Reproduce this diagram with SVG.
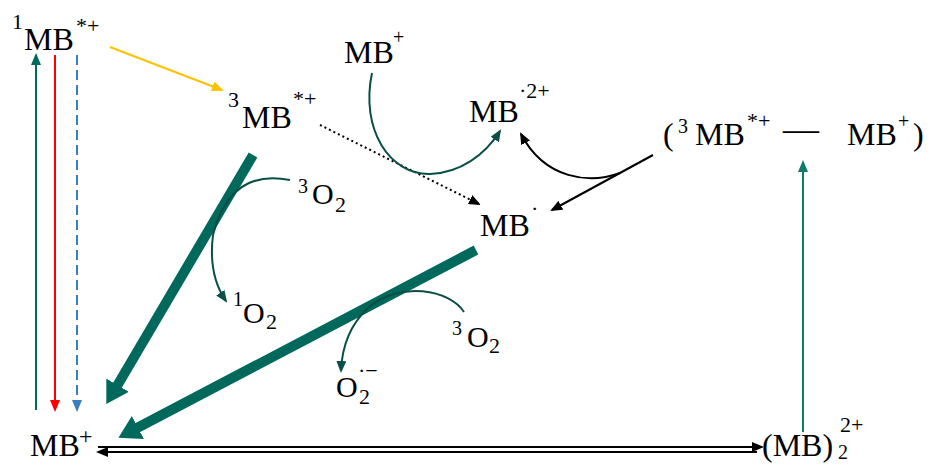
<svg xmlns="http://www.w3.org/2000/svg" width="930" height="465" viewBox="0 0 930 465" font-family="'Liberation Serif', 'Times New Roman', serif">
<style>
text{font-family:"Liberation Serif","Times New Roman",serif;fill:#000}
.m{font-size:32px}
.o{font-size:30px}
.s{font-size:22px}
.s2{font-size:20px}
.thin{fill:none;stroke-width:2}
</style>
<defs>
<marker id="hTeal" viewBox="0 0 12 10" refX="10" refY="5" markerWidth="12" markerHeight="10" markerUnits="userSpaceOnUse" orient="auto"><path d="M0,0 L12,5 L0,10 z" fill="#00695c"/></marker>
<marker id="hRed" viewBox="0 0 12 10" refX="10" refY="5" markerWidth="12" markerHeight="10" markerUnits="userSpaceOnUse" orient="auto"><path d="M0,0 L12,5 L0,10 z" fill="#ff0000"/></marker>
<marker id="hBlue" viewBox="0 0 12 10" refX="10" refY="5" markerWidth="12" markerHeight="10" markerUnits="userSpaceOnUse" orient="auto"><path d="M0,0 L12,5 L0,10 z" fill="#3a7ec2"/></marker>
<marker id="hYel" viewBox="0 0 12 10" refX="10" refY="5" markerWidth="12" markerHeight="10" markerUnits="userSpaceOnUse" orient="auto"><path d="M0,0 L12,5 L0,10 z" fill="#ffc000"/></marker>
<marker id="hDark" viewBox="0 0 12 10" refX="10" refY="5" markerWidth="12" markerHeight="10" markerUnits="userSpaceOnUse" orient="auto"><path d="M0,0 L12,5 L0,10 z" fill="#0a4f46"/></marker>
<marker id="hBlk" viewBox="0 0 12 10" refX="10" refY="5" markerWidth="12" markerHeight="10" markerUnits="userSpaceOnUse" orient="auto"><path d="M0,0 L12,5 L0,10 z" fill="#000"/></marker>
<marker id="hBlkS" viewBox="0 0 12 10" refX="2" refY="5" markerWidth="12" markerHeight="10" markerUnits="userSpaceOnUse" orient="auto"><path d="M12,0 L0,5 L12,10 z" fill="#000"/></marker>
<marker id="hTeal2" viewBox="0 0 12 10" refX="10" refY="5" markerWidth="12" markerHeight="10" markerUnits="userSpaceOnUse" orient="auto"><path d="M0,0 L12,5 L0,10 z" fill="#0f7b6e"/></marker>
<marker id="hThick" viewBox="0 0 22 26" refX="1" refY="13" markerWidth="22" markerHeight="26" markerUnits="userSpaceOnUse" orient="auto"><path d="M0,0 L22,13 L0,26 z" fill="#00695c"/></marker>
</defs>

<g id="connectors">
<line x1="36" y1="410" x2="36" y2="55" class="thin" stroke="#00695c" marker-end="url(#hTeal)"/>
<line x1="55" y1="55" x2="55" y2="410" class="thin" stroke="#ff0000" stroke-width="2.5" marker-end="url(#hRed)"/>
<line x1="77" y1="55" x2="77" y2="410" class="thin" stroke="#3a7ec2" stroke-dasharray="10,5" marker-end="url(#hBlue)"/>
<line x1="110" y1="47" x2="222" y2="90" class="thin" stroke="#ffc000" stroke-width="2.5" marker-end="url(#hYel)"/>
<line x1="320" y1="125" x2="479" y2="204" class="thin" stroke="#000" stroke-dasharray="2,3" stroke-width="2.5" marker-end="url(#hBlk)"/>
<line x1="253" y1="155" x2="117" y2="386" stroke="#00695c" stroke-width="10" marker-end="url(#hThick)"/>
<line x1="476" y1="250" x2="137" y2="428" stroke="#00695c" stroke-width="10" marker-end="url(#hThick)"/>
<path d="M290,180 Q230,168 213,235 Q208,275 226,301" class="thin" stroke="#0a4f46" marker-end="url(#hDark)"/>
<path d="M464,312 C450,290 400,280 368,308 C352,323 342,345 341,371" class="thin" stroke="#0a4f46" marker-end="url(#hDark)"/>
<path d="M372,73 C360,130 390,175 430,174 C460,173 485,155 500,131" class="thin" stroke="#0a4f46" stroke-width="2.5" marker-end="url(#hDark)"/>
<line x1="653" y1="155" x2="552" y2="210" class="thin" stroke="#000" marker-end="url(#hBlk)"/>
<path d="M620,173 C590,184 545,180 521,134" class="thin" stroke="#000" marker-end="url(#hBlk)"/>
<line x1="803" y1="432" x2="803" y2="162" class="thin" stroke="#0f7b6e" marker-end="url(#hTeal2)"/>
<line x1="98" y1="447" x2="762" y2="447" class="thin" stroke="#000" stroke-width="2.5" marker-end="url(#hBlk)"/>
<line x1="98" y1="452" x2="757" y2="452" class="thin" stroke="#000" stroke-width="2.5" marker-start="url(#hBlkS)"/>
</g>

<g id="n-1MB">
<text class="s" x="12" y="29">1</text>
<text class="m" x="24" y="50">MB</text>
<text class="s" x="76" y="33">*+</text>
</g>
<g id="n-3MB">
<text class="s" x="228" y="107">3</text>
<text class="m" x="242" y="128">MB</text>
<text class="s" x="293" y="106">*+</text>
</g>
<g id="n-MBplus-top">
<text class="m" x="344" y="63">MB</text>
<text class="s2" x="393" y="44">+</text>
</g>
<g id="n-MB2plus">
<text class="m" x="469" y="122">MB</text>
<text class="s" x="519" y="98">·2+</text>
</g>
<g id="n-MBrad">
<text class="m" x="480" y="236">MB</text>
<text class="s" x="531" y="216">·</text>
</g>
<g id="n-complex">
<text class="m" x="663" y="145">(</text>
<text class="s2" x="678" y="133">3</text>
<text class="m" x="695" y="145">MB</text>
<text class="s" x="747" y="128">*+</text>
<text style="font-size:36px" x="783" y="141">––</text>
<text class="m" x="847" y="145">MB</text>
<text class="s2" x="898" y="128">+</text>
<text class="m" x="913" y="145">)</text>
</g>
<g id="n-3O2a">
<text class="s2" x="298" y="193">3</text>
<text class="o" x="312" y="204">O</text>
<text class="s" x="335" y="212">2</text>
</g>
<g id="n-1O2">
<text class="s2" x="233" y="306">1</text>
<text class="o" x="243" y="323">O</text>
<text class="s" x="266" y="329">2</text>
</g>
<g id="n-3O2b">
<text class="s2" x="452" y="335">3</text>
<text class="o" x="467" y="347">O</text>
<text class="s" x="489" y="353">2</text>
</g>
<g id="n-O2rad">
<text class="o" x="336" y="397">O</text>
<text class="s" x="358" y="378">·−</text>
<text class="s" x="359" y="404">2</text>
</g>
<g id="n-MBplus-bottom">
<text class="m" x="30" y="456">MB</text>
<text style="font-size:24px" x="79" y="444">+</text>
</g>
<g id="n-dimer">
<text class="m" x="762" y="456">(MB)</text>
<text class="s" x="840" y="432">2+</text>
<text class="s2" x="838" y="459">2</text>
</g>
</svg>
